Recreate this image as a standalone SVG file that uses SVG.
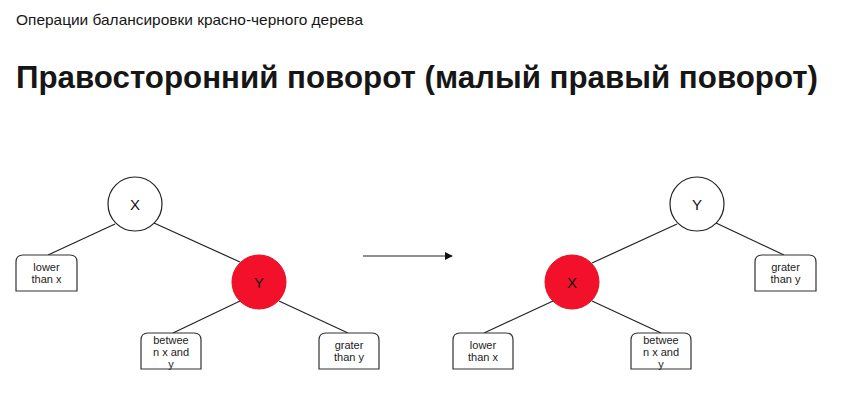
<svg xmlns="http://www.w3.org/2000/svg" width="841" height="412" viewBox="0 0 841 412">
<defs>
<style>
.bg{fill:#ffffff}
.sub{font-family:"Liberation Sans",Arial,sans-serif;font-size:15px;fill:#161616}
.title{font-family:"Liberation Sans",Arial,sans-serif;font-size:31px;font-weight:bold;fill:#161616}
.edge{stroke:#222;stroke-width:1.2;fill:none}
.circ{stroke:#222;stroke-width:1.2;fill:#ffffff}
.red{stroke:#e01020;stroke-width:1;fill:#f2102a}
.box{stroke:#333;stroke-width:1.2;fill:#ffffff}
.lbl{font-family:"Liberation Sans",Arial,sans-serif;font-size:15px;fill:#111;text-anchor:middle}
.bl{font-family:"Liberation Sans",Arial,sans-serif;font-size:11px;fill:#222;text-anchor:middle}
</style>
<marker id="arr" viewBox="0 0 10 10" refX="9" refY="5" markerWidth="8" markerHeight="8" markerUnits="userSpaceOnUse" orient="auto">
<path d="M0,0 L10,5 L0,10 Z" fill="#111"/>
</marker>
</defs>
<rect class="bg" x="0" y="0" width="841" height="412"/>
<text class="sub" x="16" y="25" textLength="347" lengthAdjust="spacingAndGlyphs">Операции балансировки красно-черного дерева</text>
<text class="title" x="16" y="88" textLength="802" lengthAdjust="spacingAndGlyphs">Правосторонний поворот (малый правый поворот)</text>

<g id="connectors">
<line class="edge" x1="115" y1="224" x2="48" y2="255"/>
<line class="edge" x1="154" y1="223" x2="240" y2="262"/>
<line class="edge" x1="240" y1="301" x2="173" y2="333"/>
<line class="edge" x1="279" y1="301" x2="348" y2="333"/>
<line class="edge" x1="363" y1="256" x2="452" y2="256" marker-end="url(#arr)"/>
<line class="edge" x1="677" y1="224" x2="592" y2="263"/>
<line class="edge" x1="716" y1="223" x2="784" y2="255"/>
<line class="edge" x1="553" y1="301" x2="484" y2="333"/>
<line class="edge" x1="592" y1="301" x2="661" y2="333"/>
</g>

<g id="left-x">
<circle class="circ" cx="135" cy="204" r="27"/>
<text class="lbl" x="135" y="209.5">X</text>
</g>
<g id="left-y">
<circle class="red" cx="259" cy="282" r="27"/>
<text class="lbl" x="259" y="287.5">Y</text>
</g>
<g id="left-lower">
<path class="box" d="M16,291 L16,262 Q16,255 23,255 L70,255 Q77,255 77,262 L77,291 Z"/>
<text class="bl" x="46.5" y="271">lower</text>
<text class="bl" x="46.5" y="283">than x</text>
</g>
<g id="left-between">
<path class="box" d="M141,369 L141,340 Q141,333 148,333 L194,333 Q201,333 201,340 L201,369 Z"/>
<text class="bl" x="171" y="344">betwee</text>
<text class="bl" x="171" y="356">n x and</text>
<text class="bl" x="171" y="368">y</text>
</g>
<g id="left-grater">
<path class="box" d="M319,369 L319,340 Q319,333 326,333 L372,333 Q379,333 379,340 L379,369 Z"/>
<text class="bl" x="349" y="349">grater</text>
<text class="bl" x="349" y="361">than y</text>
</g>

<g id="right-y">
<circle class="circ" cx="697" cy="204" r="27"/>
<text class="lbl" x="697" y="209.5">Y</text>
</g>
<g id="right-x">
<circle class="red" cx="572" cy="282" r="27"/>
<text class="lbl" x="572" y="287.5">X</text>
</g>
<g id="right-grater">
<path class="box" d="M755,291 L755,262 Q755,255 762,255 L809,255 Q816,255 816,262 L816,291 Z"/>
<text class="bl" x="785.5" y="271">grater</text>
<text class="bl" x="785.5" y="283">than y</text>
</g>
<g id="right-lower">
<path class="box" d="M453,369 L453,340 Q453,333 460,333 L506,333 Q513,333 513,340 L513,369 Z"/>
<text class="bl" x="483" y="349">lower</text>
<text class="bl" x="483" y="361">than x</text>
</g>
<g id="right-between">
<path class="box" d="M631,369 L631,340 Q631,333 638,333 L684,333 Q691,333 691,340 L691,369 Z"/>
<text class="bl" x="661" y="344">betwee</text>
<text class="bl" x="661" y="356">n x and</text>
<text class="bl" x="661" y="368">y</text>
</g>
</svg>
